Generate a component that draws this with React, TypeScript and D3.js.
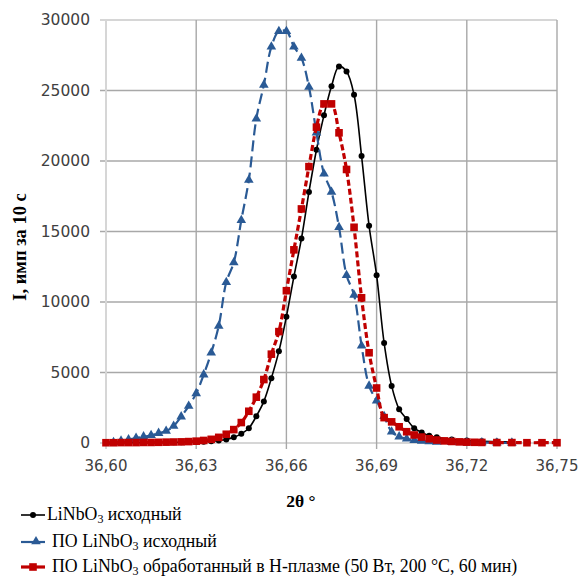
import React from "react";
import * as d3 from "d3";

// 2θ scan of the (006)-type reflection, counts per 10 s
const xTicks = [36.6, 36.63, 36.66, 36.69, 36.72, 36.75];
const yTicks = [0, 5000, 10000, 15000, 20000, 25000, 30000];

const angBase = [
  36.6025, 36.605, 36.6075, 36.61, 36.6125, 36.615, 36.6175, 36.62, 36.6225, 36.625,
  36.6275, 36.63, 36.6325, 36.635, 36.6375, 36.64, 36.6425, 36.645, 36.6475, 36.65,
  36.6525, 36.655, 36.6575, 36.66, 36.6625, 36.665, 36.6675, 36.67, 36.6725, 36.675,
  36.6775, 36.68, 36.6825, 36.685, 36.6875, 36.69, 36.6925, 36.695, 36.6975, 36.7,
  36.7025, 36.705, 36.7075, 36.71, 36.715, 36.72, 36.725, 36.73, 36.735,
];

// LiNbO3 исходный
const blackAng = angBase;
const blackVal = [
  20, 20, 30, 30, 30, 40, 40, 50, 50, 60,
  70, 80, 90, 120, 170, 250, 400, 650, 1050, 1900,
  2950, 4600, 6500, 8960, 11800, 14500, 17800, 20800, 23250, 25300,
  26700, 26350, 24700, 20350, 15400, 11900, 7100, 4050, 2400, 1700,
  1050, 750, 520, 400, 250, 170, 120, 100, 80,
];

// ПО LiNbO3 исходный
const blueAng = angBase;
const blueVal = [
  50, 150, 250, 350, 450, 550, 700, 850, 1200, 1870,
  2620, 3520, 4850, 6400, 8300, 11400, 12800, 15800, 18650, 23000,
  25400, 28100, 29200, 29200, 28100, 27300, 25250, 22000, 19100, 17800,
  15300, 11900, 10500, 6900, 4050, 3000, 1900, 800, 450, 300,
  200, 150, 100, 80, 60, 40, 30, 20, 10,
];

// ПО LiNbO3 после H-плазмы
const redAng = [
  36.6, 36.6025, 36.605, 36.6075, 36.61, 36.6125, 36.615, 36.6175, 36.62, 36.6225,
  36.625, 36.6275, 36.63, 36.6325, 36.635, 36.6375, 36.64, 36.6425, 36.645, 36.6475,
  36.65, 36.6525, 36.655, 36.6575, 36.66, 36.6625, 36.665, 36.6675, 36.67, 36.6725,
  36.675, 36.6775, 36.68, 36.6825, 36.685, 36.6875, 36.69, 36.6925, 36.695, 36.6975,
  36.7, 36.7025, 36.705, 36.7075, 36.71, 36.7125, 36.715, 36.7175, 36.72, 36.7225,
  36.725, 36.73, 36.735, 36.74, 36.745, 36.75,
];
const redVal = [
  20, 20, 30, 30, 30, 40, 40, 50, 60, 70,
  80, 100, 130, 180, 260, 400, 620, 950, 1450, 2250,
  3250, 4500, 6300, 7900, 10800, 13700, 16600, 19600, 22400, 24050,
  24050, 22000, 19400, 15300, 10300, 6400, 3900, 1800, 1500, 1150,
  800, 570, 420, 300, 210, 150, 110, 80, 60, 50,
  40, 30, 30, 20, 20, 20,
];

const W = 581;
const H = 578;
const left = 106;
const right = 557;
const top = 20;
const bottom = 443;

const BLUE = "#2a5a95";
const RED = "#c00000";
const LABEL = "#404040";

const x = d3.scaleLinear().domain([36.6, 36.75]).range([left, right]);
const y = d3.scaleLinear().domain([0, 30000]).range([bottom, top]);

type Pt = [number, number];
const zip = (a: number[], b: number[]): Pt[] => a.map((v, i) => [v, b[i]]);

const line = d3
  .line<Pt>()
  .x((d) => x(d[0]))
  .y((d) => y(d[1]))
  .curve(d3.curveCatmullRom.alpha(0.5));

const tri = d3.symbol().type(d3.symbolTriangle).size(40)();

function Circle({ cx, cy }: { cx: number; cy: number }) {
  return <circle cx={cx} cy={cy} r={3} fill="#000" />;
}
function Tri({ cx, cy }: { cx: number; cy: number }) {
  return <path d={tri || ""} transform={`translate(${cx},${cy})`} fill={BLUE} />;
}
function Sq({ cx, cy }: { cx: number; cy: number }) {
  return <rect x={cx - 3.8} y={cy - 3.8} width={7.6} height={7.6} fill={RED} />;
}

function LiNbO3({ pre }: { pre?: string }) {
  return (
    <>
      {pre}LiNbO
      <tspan dy={3} fontSize={12}>3</tspan>
      <tspan dy={-3}> </tspan>
    </>
  );
}

export default function App() {
  const black = zip(blackAng, blackVal);
  const blue = zip(blueAng, blueVal);
  const red = zip(redAng, redVal);
  const tickFont = "DejaVu Sans, sans-serif";
  const serif = "Liberation Serif, Times New Roman, serif";

  return (
    <svg
      width={W}
      height={H}
      style={{ position: "absolute", left: 0, top: 0, background: "#fff" }}
    >
      {/* grid */}
      {yTicks.map((t) => (
        <line
          key={"gy" + t}
          x1={left - 6}
          x2={right}
          y1={y(t)}
          y2={y(t)}
          stroke={t === 0 || t === 30000 ? "#d6d6d6" : "#a8a8a8"}
          strokeWidth={t === 0 || t === 30000 ? 2 : 1.4}
        />
      ))}
      {xTicks.map((t, i) => (
        <line
          key={"gx" + t}
          x1={x(t)}
          x2={x(t)}
          y1={top}
          y2={bottom + 6}
          stroke={i === 0 ? "#d6d6d6" : "#a8a8a8"}
          strokeWidth={i === 0 ? 2 : 1.4}
        />
      ))}

      {/* tick labels */}
      {yTicks.map((t) => (
        <text
          key={"ly" + t}
          x={90}
          y={y(t)}
          textAnchor="end"
          dominantBaseline="central"
          fontFamily={tickFont}
          fontSize={15.5}
          fill={LABEL}
        >
          {t}
        </text>
      ))}
      {xTicks.map((t) => (
        <text
          key={"lx" + t}
          x={x(t)}
          y={466}
          textAnchor="middle"
          dominantBaseline="central"
          fontFamily={tickFont}
          fontSize={15}
          fill={LABEL}
        >
          {t.toFixed(2).replace(".", ",")}
        </text>
      ))}

      {/* axis titles */}
      <text
        transform="translate(20,247) rotate(-90)"
        textAnchor="middle"
        dominantBaseline="central"
        fontFamily={serif}
        fontWeight="bold"
        fontSize={18.5}
        fill="#000"
      >
        I, имп за 10 с
      </text>
      <text
        x={301}
        y={507}
        textAnchor="middle"
        fontFamily={serif}
        fontWeight="bold"
        fontSize={17.5}
        fill="#000"
      >
        2θ °
      </text>

      {/* series */}
      <path d={line(black) || ""} fill="none" stroke="#000" strokeWidth={1.6} />
      {black.map((d, i) => (
        <Circle key={"b" + i} cx={x(d[0])} cy={y(d[1])} />
      ))}

      <path
        d={line(blue) || ""}
        fill="none"
        stroke={BLUE}
        strokeWidth={2.2}
        strokeDasharray="11,5"
      />
      {blue.map((d, i) => (
        <Tri key={"u" + i} cx={x(d[0])} cy={y(d[1])} />
      ))}

      <path
        d={line(red) || ""}
        fill="none"
        stroke={RED}
        strokeWidth={3.2}
        strokeDasharray="6,3"
      />
      {red.map((d, i) => (
        <Sq key={"r" + i} cx={x(d[0])} cy={y(d[1])} />
      ))}

      {/* legend */}
      <g fontFamily={serif} fontSize={17.8} fill="#000">
        <line x1={21} x2={45} y1={515} y2={515} stroke="#000" strokeWidth={1.6} />
        <Circle cx={33} cy={515} />
        <text x={47} y={520}>
          <LiNbO3 />
          исходный
        </text>

        <line x1={21} x2={45} y1={542} y2={542} stroke={BLUE} strokeWidth={2.2} />
        <Tri cx={36} cy={541.5} />
        <text x={52} y={547}>
          <LiNbO3 pre="ПО " />
          исходный
        </text>

        <line x1={21} x2={45} y1={567} y2={567} stroke={RED} strokeWidth={3.2} />
        <Sq cx={33} cy={567} />
        <text x={52} y={572}>
          <LiNbO3 pre="ПО " />
          обработанный в Н-плазме (50 Вт, 200 °C, 60 мин)
        </text>
      </g>
    </svg>
  );
}
